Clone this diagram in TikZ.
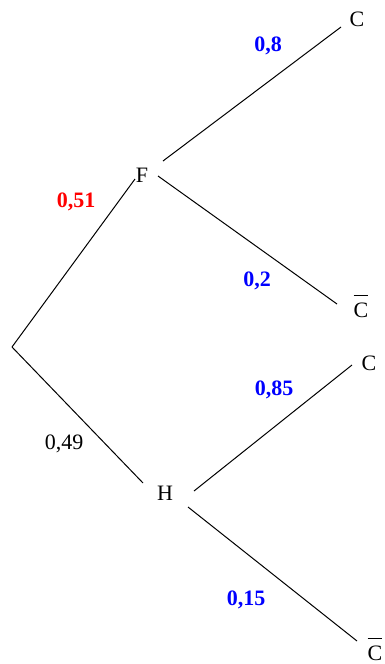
\documentclass[tikz,border=0pt]{standalone}
\usepackage{fontspec}
\setmainfont{Liberation Serif}
\newcommand{\barC}{\setbox0\hbox{C}\vbox{\hrule width\wd0 height 0.9pt \kern 6.5pt \box0}}
\begin{document}
\begin{tikzpicture}[x=1pt,y=-1pt,
  lbl/.style={inner sep=0pt, anchor=base, font=\fontsize{22}{24}\selectfont},
  prob/.style={inner sep=0pt, anchor=base, font=\fontsize{22}{24}\selectfont\bfseries, text=blue},
  edge/.style={line width=1pt}]
\useasboundingbox (0,0) rectangle (385,664);
% nodes
\coordinate (root) at (12,347);
\node[lbl] (F) at (142,182) {F};
\node[lbl] (H) at (165,500) {H};
\node[lbl] (C1) at (357,26) {C};
\node[lbl] (C2) at (361,317) {\barC};
\node[lbl] (C3) at (369,370) {C};
\node[lbl] (C4) at (375,660) {\barC};
% connector ends
\coordinate (F-w) at (135,179);
\coordinate (F-ne) at (163,161);
\coordinate (F-se) at (158,176);
\coordinate (C1-sw) at (341,27);
\coordinate (C2-nw) at (337,304);
\coordinate (H-nw) at (143,483);
\coordinate (H-ne) at (194,491);
\coordinate (H-se) at (188,507);
\coordinate (C3-sw) at (352,365);
\coordinate (C4-nw) at (357,641);
% connectors
\draw[edge] (root) -- (F-w);
\draw[edge] (root) -- (H-nw);
\draw[edge] (F-ne) -- (C1-sw);
\draw[edge] (F-se) -- (C2-nw);
\draw[edge] (H-ne) -- (C3-sw);
\draw[edge] (H-se) -- (C4-nw);
% probabilities
\node[prob, text=red] (p51) at (76,207) {0,51};
\node[lbl] (p49) at (64,449) {0,49};
\node[prob] (p8) at (268,51) {0,8};
\node[prob] (p2) at (257,286) {0,2};
\node[prob] (p85) at (274,395) {0,85};
\node[prob] (p15) at (246,605) {0,15};
\end{tikzpicture}
\end{document}
